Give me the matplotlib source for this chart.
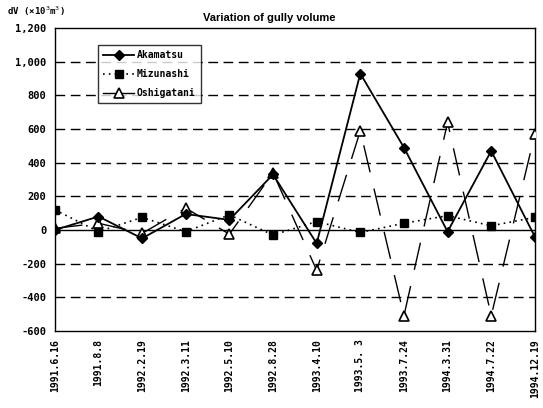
import matplotlib
matplotlib.use("Agg")
import matplotlib.pyplot as plt
from matplotlib.lines import Line2D
from matplotlib.ticker import FuncFormatter

dates = ["1991.6.16", "1991.8.8", "1992.2.19", "1992.3.11", "1992.5.10", "1992.8.28",
         "1993.4.10", "1993.5. 3", "1993.7.24", "1994.3.31", "1994.7.22", "1994.12.19"]
akamatsu = [0, 80, -50, 95, 60, 330, -80, 930, 490, -10, 470, -40]
mizunashi = [120, -10, 75, -10, 90, -30, 50, -15, 40, 85, 25, 75]
oshigatani = [10, 40, -20, 130, -25, 340, -240, 590, -510, 640, -510, 570]
yticks = list(range(-600, 1201, 200))

fig = plt.figure(figsize=(5.43, 4.08), dpi=100)
ax = fig.add_axes([0.101, 0.189, 0.884, 0.742])
x = list(range(len(dates)))

for t in yticks:
    if t == 0:
        ax.axhline(t, color="black", lw=1.0, zorder=1)
    elif t not in (-600, 1200):
        ax.axhline(t, color="black", lw=1.0, ls=(0, (7, 4)), zorder=1)

ax.plot(x, akamatsu, color="black", lw=1.3, marker="D", ms=5, mfc="black", mec="black", zorder=4)
ax.plot(x, mizunashi, color="black", lw=1.2, ls=(0, (1, 2.5)), marker="s", ms=5.5, mfc="black", mec="black", zorder=3)
ax.plot(x, oshigatani, color="black", lw=1.0, ls=(0, (20, 12)), marker="^", ms=6.5, mfc="white", mec="black", mew=1.2, zorder=3)

ax.set_xlim(0, 11)
ax.set_ylim(-600, 1200)
ax.set_yticks(yticks)
ax.yaxis.set_major_formatter(FuncFormatter(lambda v, p: f"{int(v):,}"))
ax.set_xticks(x)
ax.set_xticklabels(dates, rotation=90, family="DejaVu Sans Mono", fontsize=7, fontweight="bold")
for lab in ax.get_yticklabels():
    lab.set_family("DejaVu Sans Mono")
    lab.set_fontsize(7.5)
    lab.set_fontweight("bold")
ax.tick_params(axis="both", length=0, pad=6)
for s in ax.spines.values():
    s.set_color("black")
    s.set_linewidth(1.0)

handles = [
    Line2D([], [], color="black", lw=1.3, marker="D", ms=5, mfc="black"),
    Line2D([], [], color="black", lw=1.2, ls=(0, (1, 2.5)), marker="s", ms=5.5, mfc="black"),
    Line2D([], [], color="black", lw=1.0, marker="^", ms=6.5, mfc="white", mec="black", mew=1.2),
]
leg = ax.legend(handles, ["Akamatsu", "Mizunashi", "Oshigatani"], loc="upper left",
                bbox_to_anchor=(0.08, 0.96), frameon=True, fancybox=False, edgecolor="black",
                prop={"family": "DejaVu Sans Mono", "size": 7, "weight": "bold"},
                handlelength=3.2, borderpad=0.5, labelspacing=0.95, handletextpad=0.3)
leg.get_frame().set_linewidth(1.0)

fig.text(0.495, 0.955, "Variation of gully volume", ha="center", va="center",
         fontsize=8, fontweight="bold", family="Liberation Sans")
fig.text(0.012, 0.972, "dV (×10$^3$m$^3$)", ha="left", va="center", fontsize=6.5,
         fontweight="bold", family="DejaVu Sans Mono")

fig.savefig("out.png", dpi=100)
